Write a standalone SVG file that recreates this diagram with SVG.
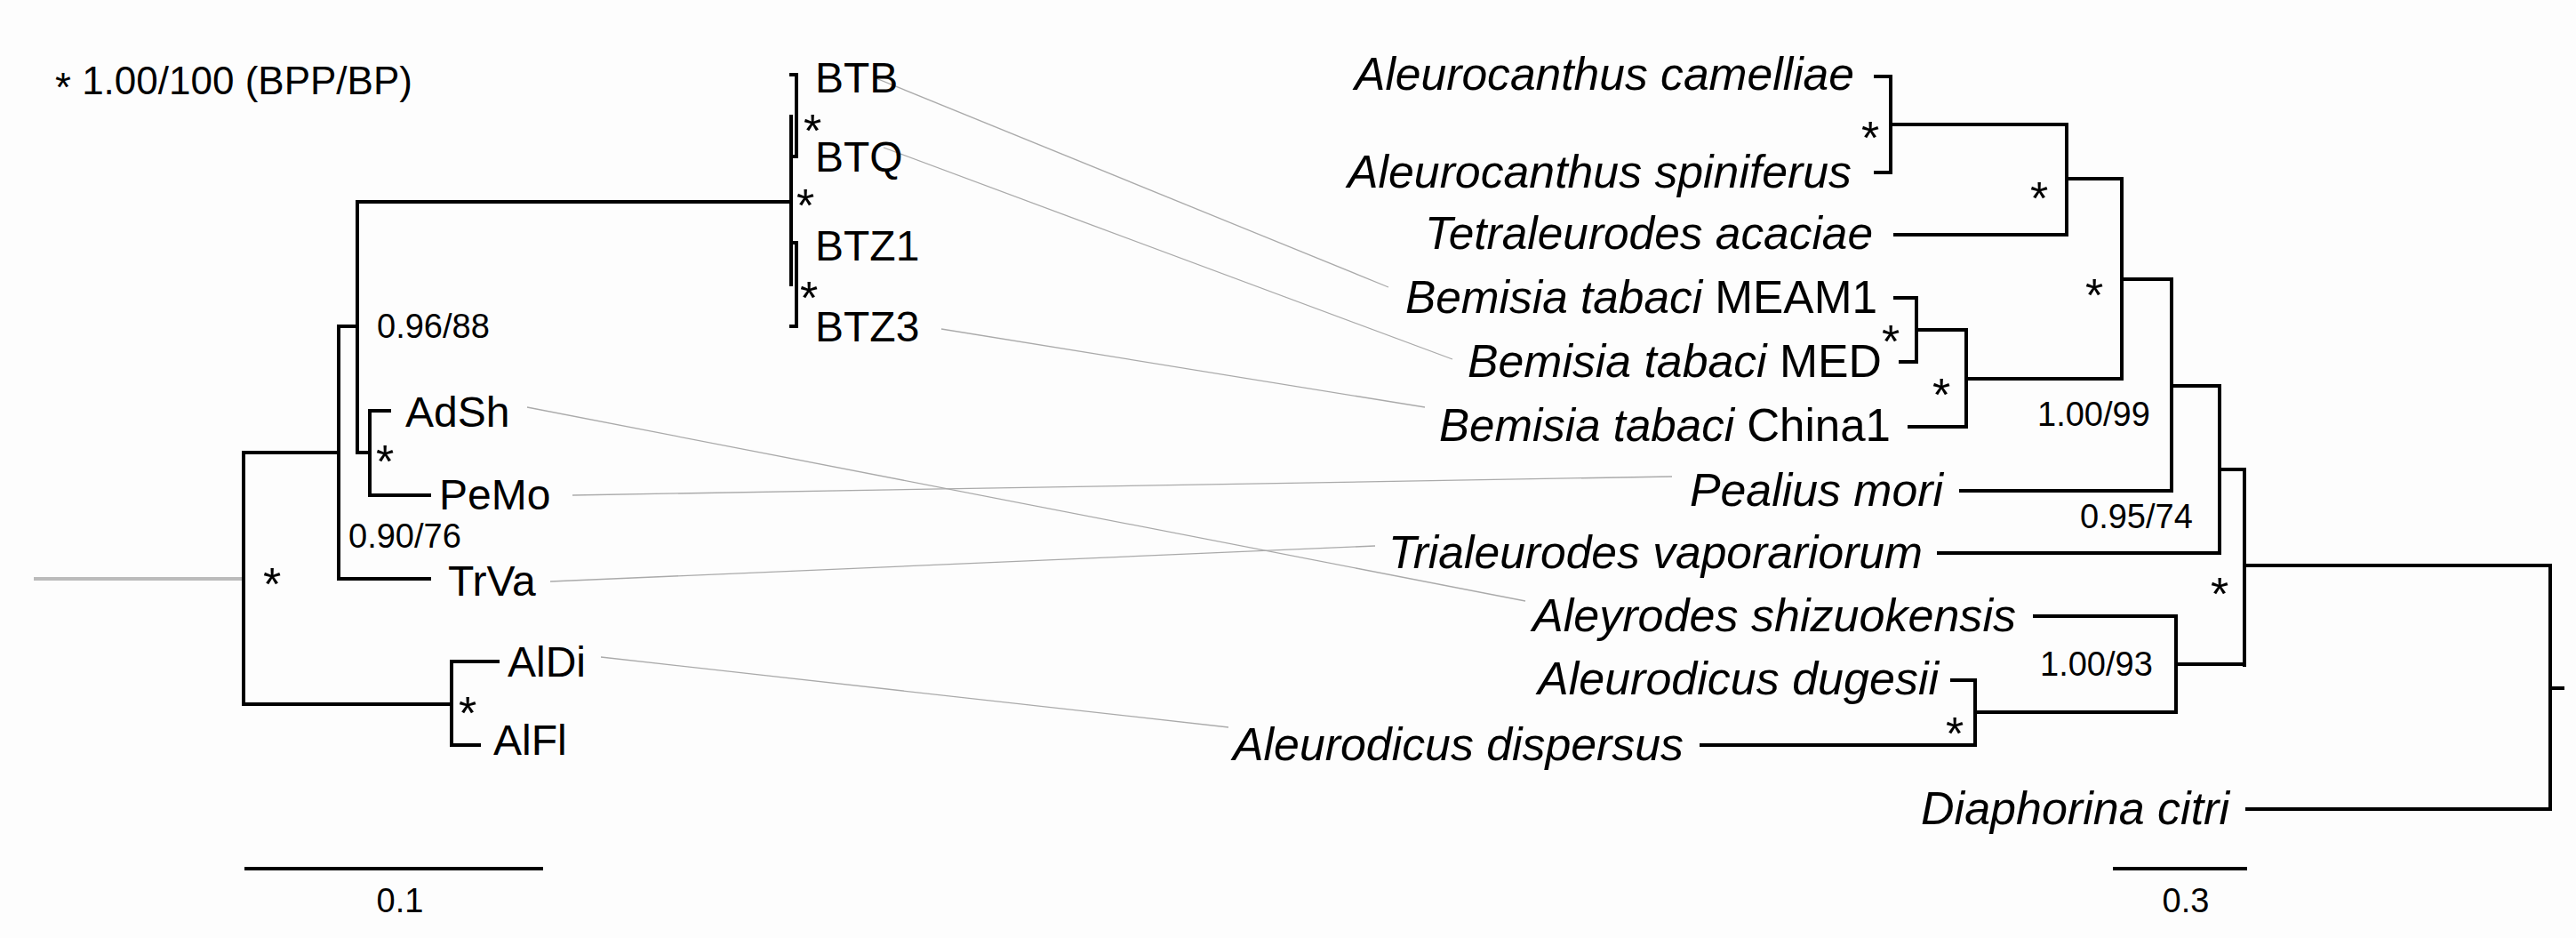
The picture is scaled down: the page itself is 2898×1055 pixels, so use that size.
<svg xmlns="http://www.w3.org/2000/svg" width="2898" height="1055" viewBox="0 0 2898 1055">
<style>
.b{stroke:#000;stroke-width:4;fill:none;stroke-linecap:square}
.c{stroke:#aaa;stroke-width:1.3;fill:none}
.t{font-family:"Liberation Sans",Arial,sans-serif;font-size:48px;fill:#000}
.i{font-family:"Liberation Sans",Arial,sans-serif;font-size:52px;font-style:italic;fill:#000}
.n{font-family:"Liberation Sans",Arial,sans-serif;font-size:38px;fill:#000}
.s{font-family:"Liberation Sans",Arial,sans-serif;font-size:52px;fill:#000}
</style>
<rect width="2898" height="1055" fill="#fdfdfd"/>
<g id="connectors">
<path class="c" d="M983,87 L1562,323"/>
<path class="c" d="M994,166 L1634,404"/>
<path class="c" d="M1059,370 L1603,458"/>
<path class="c" d="M593,458 L1716,676"/>
<path class="c" d="M644,557 L1881,536"/>
<path class="c" d="M619,654 L1547,614"/>
<path class="c" d="M676,739 L1382,818"/>
</g>
<g id="left-tree">
<path d="M38,651 H274" stroke="#bbb" stroke-width="4"/>
<path class="b" d="M274,509 V792 M274,509 H381 M381,367 V651 M381,651 H483 M381,367 H402 M402,227 V509 M402,227 H890 M402,509 H416 M416,462 V557 M416,462 H438 M416,557 H483 M274,792 H508 M508,744 V838 M508,744 H560 M508,838 H539"/>
<path class="b" d="M890,131 V320 M896,84 V176 M896,273 V367 M890,84 H896 M890,176 H896 M890,273 H896 M890,367 H896"/>
</g>
<g id="left-labels">
<text class="t" x="917" y="104">BTB</text>
<text class="t" x="917" y="193">BTQ</text>
<text class="t" x="917" y="293">BTZ1</text>
<text class="t" x="917" y="384">BTZ3</text>
<text class="t" x="456" y="480">AdSh</text>
<text class="t" x="494" y="573">PeMo</text>
<text class="t" x="504" y="670">TrVa</text>
<text class="t" x="571" y="761">AlDi</text>
<text class="t" x="555" y="849">AlFl</text>
<text class="s" x="904" y="165">*</text>
<text class="s" x="896" y="249">*</text>
<text class="s" x="900" y="353">*</text>
<text class="s" x="423" y="537">*</text>
<text class="s" x="296" y="675">*</text>
<text class="s" x="516" y="820">*</text>
<text class="n" x="424" y="380">0.96/88</text>
<text class="n" x="392" y="616">0.90/76</text>
<text class="t" x="62" y="106" style="font-size:44px"><tspan style="font-size:46px" dy="8">*</tspan><tspan dy="-8"> 1.00/100 (BPP/BP)</tspan></text>
<path class="b" d="M277,977 H609"/>
<text class="n" x="450" y="1026" text-anchor="middle">0.1</text>
</g>
<g id="right-tree">
<path class="b" d="M2110,86 H2127 V194 H2110 M2127,140 H2325 V264 H2132 M2325,201 H2387 V426 M2132,335 H2156 V407 H2138 M2156,371 H2212 V480 H2148 M2212,426 H2387 M2387,314 H2443 V552 H2206 M2443,434 H2497 V622 H2181 M2497,528 H2525 V748 M2525,636 H2869 V910 H2528 M2869,774 H2883 M2289,693 H2448 V801 M2448,747 H2525 M2196,765 H2222 V838 H1914 M2222,801 H2448"/>
</g>
<g id="right-labels">
<text class="i" x="1524" y="101" textLength="562" lengthAdjust="spacingAndGlyphs">Aleurocanthus camelliae</text>
<text class="i" x="1516" y="211" textLength="567" lengthAdjust="spacingAndGlyphs">Aleurocanthus spiniferus</text>
<text class="i" x="1603" y="280" textLength="504" lengthAdjust="spacingAndGlyphs">Tetraleurodes acaciae</text>
<text class="i" x="1581" y="352" textLength="531" lengthAdjust="spacingAndGlyphs">Bemisia tabaci <tspan font-style="normal">MEAM1</tspan></text>
<text class="i" x="1651" y="424" textLength="466" lengthAdjust="spacingAndGlyphs">Bemisia tabaci <tspan font-style="normal">MED</tspan></text>
<text class="i" x="1619" y="496" textLength="508" lengthAdjust="spacingAndGlyphs">Bemisia tabaci <tspan font-style="normal">China1</tspan></text>
<text class="i" x="1901" y="569" textLength="285" lengthAdjust="spacingAndGlyphs">Pealius mori</text>
<text class="i" x="1562" y="639" textLength="601" lengthAdjust="spacingAndGlyphs">Trialeurodes vaporariorum</text>
<text class="i" x="1724" y="710" textLength="544" lengthAdjust="spacingAndGlyphs">Aleyrodes shizuokensis</text>
<text class="i" x="1730" y="781" textLength="451" lengthAdjust="spacingAndGlyphs">Aleurodicus dugesii</text>
<text class="i" x="1387" y="855" textLength="507" lengthAdjust="spacingAndGlyphs">Aleurodicus dispersus</text>
<text class="i" x="2161" y="927" textLength="347" lengthAdjust="spacingAndGlyphs">Diaphorina citri</text>
<text class="s" x="2094" y="173">*</text>
<text class="s" x="2284" y="241">*</text>
<text class="s" x="2346" y="350">*</text>
<text class="s" x="2117" y="402">*</text>
<text class="s" x="2174" y="462">*</text>
<text class="s" x="2487" y="686">*</text>
<text class="s" x="2189" y="843">*</text>
<text class="n" x="2292" y="479">1.00/99</text>
<text class="n" x="2340" y="594">0.95/74</text>
<text class="n" x="2295" y="760">1.00/93</text>
<path class="b" d="M2379,977 H2526"/>
<text class="n" x="2459" y="1026" text-anchor="middle">0.3</text>
</g>
</svg>
